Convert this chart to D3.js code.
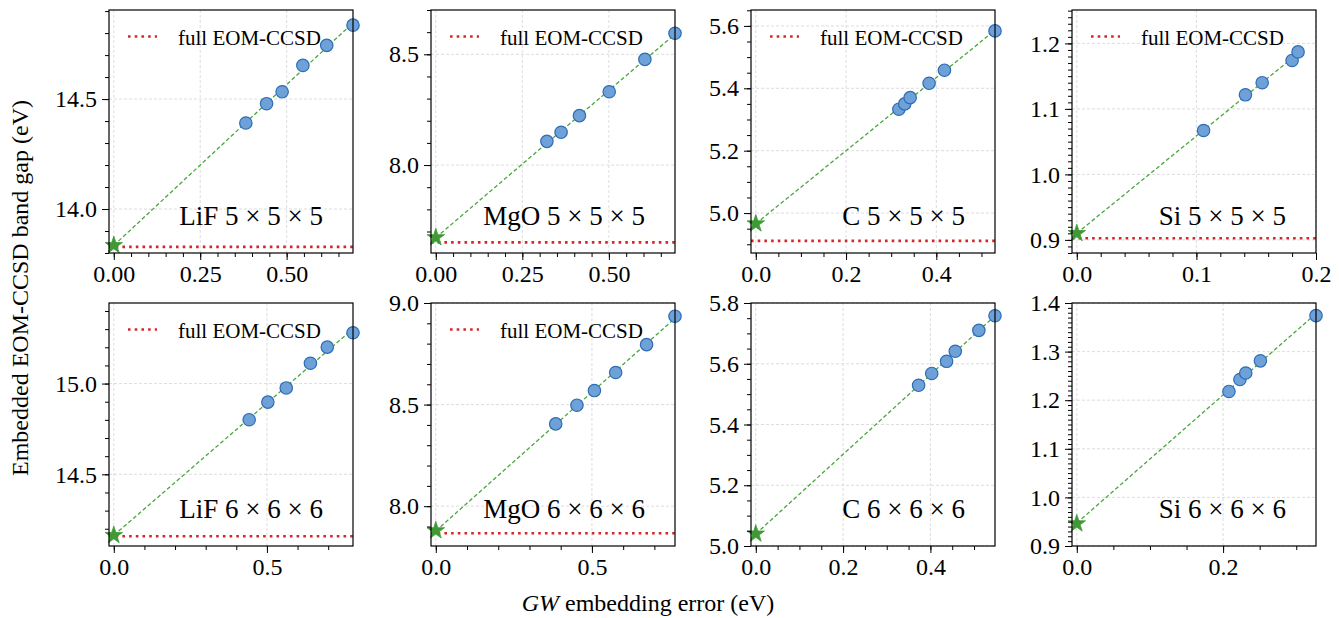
<!DOCTYPE html>
<html lang="en">
<head>
<meta charset="utf-8">
<script src="https://d3js.org/d3.v7.min.js"></script>
<style>
  body { margin: 0; background: #fff; }
  svg text { font-family: "Liberation Serif", serif !important; fill: #000; }
</style>
</head>
<body>
<div id="graph"></div>
<script>
// panel names
var systems = ["LiF", "MgO", "C", "Si", "LiF", "MgO", "C", "Si"];
var kmesh = [5, 5, 5, 5, 6, 6, 6, 6];

// GW embedding error (x) and embedded EOM-CCSD gap (y), one pair per panel
var lif5X = [0.382, 0.442, 0.487, 0.547, 0.616, 0.692];
var lif5Y = [14.391, 14.479, 14.533, 14.653, 14.744, 14.836];
var mgo5X = [0.321, 0.362, 0.415, 0.501, 0.604, 0.691];
var mgo5Y = [8.107, 8.148, 8.223, 8.331, 8.477, 8.595];
var c5X = [0.317, 0.330, 0.342, 0.384, 0.418, 0.530];
var c5Y = [5.333, 5.350, 5.370, 5.416, 5.458, 5.584];
var si5X = [0.106, 0.141, 0.155, 0.180, 0.185];
var si5Y = [1.067, 1.1215, 1.140, 1.174, 1.187];
var lif6X = [0.442, 0.503, 0.563, 0.642, 0.697, 0.781];
var lif6Y = [14.801, 14.898, 14.976, 15.112, 15.201, 15.280];
var mgo6X = [0.384, 0.452, 0.508, 0.576, 0.675, 0.766];
var mgo6Y = [8.405, 8.497, 8.569, 8.658, 8.795, 8.935];
var c6X = [0.373, 0.403, 0.437, 0.457, 0.511, 0.548];
var c6Y = [5.529, 5.568, 5.608, 5.641, 5.710, 5.758];
var si6X = [0.208, 0.223, 0.231, 0.251, 0.327];
var si6Y = [1.218, 1.2425, 1.256, 1.281, 1.374];

// extrapolated value at zero error (star) and the full EOM-CCSD reference
var starY = [13.835, 7.673, 4.966, 0.910, 14.164, 7.880, 5.040, 0.946];
var fullY = [13.828, 7.651, 4.911, 0.9026, 14.159, 7.867, null, null];

// axis ranges
var xMax = [0.692, 0.691, 0.530, 0.2, 0.781, 0.766, 0.548, 0.327];
var yLo = [13.80, 7.603, 4.872, 0.880, 14.105, 7.804, 5.0, 0.9];
var yHi = [14.905, 8.70, 5.651, 1.251, 15.444, 9.0, 5.8, 1.4];

// tick labels
var xTickLabels = [
  ["0.00", "0.25", "0.50"], ["0.00", "0.25", "0.50"], ["0.0", "0.2", "0.4"], ["0.0", "0.1", "0.2"],
  ["0.0", "0.5"], ["0.0", "0.5"], ["0.0", "0.2", "0.4"], ["0.0", "0.2"]
];
var yTickLabels = [
  ["14.0", "14.5"], ["8.0", "8.5"], ["5.0", "5.2", "5.4", "5.6"], ["0.9", "1.0", "1.1", "1.2"],
  ["14.5", "15.0"], ["8.0", "8.5", "9.0"], ["5.0", "5.2", "5.4", "5.6", "5.8"],
  ["0.9", "1.0", "1.1", "1.2", "1.3", "1.4"]
];
var xMinor = [0.05, 0.05, 0.05, 0.02, 0.1, 0.1, 0.05, 0.05];
var yMinor = [0.1, 0.1, 0.05, 0.01, 0.1, 0.1, 0.05, 0.01];

var xs = [lif5X, mgo5X, c5X, si5X, lif6X, mgo6X, c6X, si6X];
var ys = [lif5Y, mgo5Y, c5Y, si5Y, lif6Y, mgo6Y, c6Y, si6Y];

var W = 1339, H = 618;
var lefts = [109, 431, 751, 1072], tops = [10, 303];
var pw = 244, ph = 243;
var serif = '"Liberation Serif", serif';

var svg = d3.select("#graph").append("svg")
    .attr("width", W).attr("height", H);

function minorTicks(lo, hi, step) {
  var out = [];
  for (var k = Math.ceil(lo / step - 1e-6); k * step <= hi + 1e-9; k++) out.push(+(k * step).toFixed(4));
  return out;
}

systems.forEach(function(name, i) {
  var g = svg.append("g")
      .attr("transform", "translate(" + lefts[i % 4] + "," + tops[Math.floor(i / 4)] + ")");

  var x = d3.scaleLinear().domain([-0.02 * xMax[i], xMax[i]]).range([0, pw]);
  var y = d3.scaleLinear().domain([yLo[i], yHi[i]]).range([ph, 0]);
  var xMaj = xTickLabels[i].map(Number), yMaj = yTickLabels[i].map(Number);

  // grid
  g.append("g").selectAll("line").data(xMaj).enter().append("line")
      .attr("x1", d => x(d)).attr("x2", d => x(d)).attr("y1", 0).attr("y2", ph)
      .attr("stroke", "#d4d4d4").attr("stroke-width", 0.8).attr("stroke-dasharray", "3,2");
  g.append("g").selectAll("line").data(yMaj).enter().append("line")
      .attr("y1", d => y(d)).attr("y2", d => y(d)).attr("x1", 0).attr("x2", pw)
      .attr("stroke", "#d4d4d4").attr("stroke-width", 0.8).attr("stroke-dasharray", "3,2");

  // full EOM-CCSD reference
  if (fullY[i] !== null) {
    g.append("line")
        .attr("x1", 0).attr("x2", pw).attr("y1", y(fullY[i])).attr("y2", y(fullY[i]))
        .attr("stroke", "#d62728").attr("stroke-width", 2.6).attr("stroke-dasharray", "2.6,4.1");
  }

  // linear fit through star and points
  var px = [0].concat(xs[i]), py = [starY[i]].concat(ys[i]);
  var mx = d3.mean(px), my = d3.mean(py);
  var slope = d3.sum(px, (v, k) => (v - mx) * (py[k] - my)) / d3.sum(px, v => (v - mx) * (v - mx));
  var icpt = my - slope * mx;
  var fitX = [0, d3.max(xs[i])];
  g.append("path")
      .datum(fitX)
      .attr("d", d3.line().x(d => x(d)).y(d => y(icpt + slope * d)))
      .attr("fill", "none").attr("stroke", "#4aa63f").attr("stroke-width", 1.3)
      .attr("stroke-dasharray", "4,2.4");

  // points
  g.append("g").selectAll("circle").data(xs[i]).enter().append("circle")
      .attr("cx", d => x(d)).attr("cy", (d, k) => y(ys[i][k])).attr("r", 6.2)
      .attr("fill", "#6ea1d8").attr("stroke", "#2f6cb3").attr("stroke-width", 1.2);

  // star at zero error
  g.append("path")
      .attr("d", d3.symbol().type(d3.symbolStar).size(95))
      .attr("transform", "translate(" + x(0) + "," + y(starY[i]) + ")")
      .attr("fill", "#3f9a36").attr("stroke", "#3f9a36").attr("stroke-width", 0.8);

  // frame
  g.append("rect").attr("width", pw).attr("height", ph)
      .attr("fill", "none").attr("stroke", "#000").attr("stroke-width", 1.2);

  // axes
  var fx = function(d) { var k = xMaj.indexOf(d); return xTickLabels[i][k]; };
  var fy = function(d) { var k = yMaj.indexOf(d); return yTickLabels[i][k]; };
  var xa = g.append("g").attr("transform", "translate(0," + ph + ")")
      .call(d3.axisBottom(x).tickValues(xMaj).tickSize(7).tickPadding(5).tickFormat(fx));
  var xm = g.append("g").attr("transform", "translate(0," + ph + ")")
      .call(d3.axisBottom(x).tickValues(minorTicks(x.domain()[0], x.domain()[1], xMinor[i])).tickSize(4).tickFormat(""));
  var ya = g.append("g")
      .call(d3.axisLeft(y).tickValues(yMaj).tickSize(7).tickPadding(5).tickFormat(fy));
  var ym = g.append("g")
      .call(d3.axisLeft(y).tickValues(minorTicks(yLo[i], yHi[i], yMinor[i])).tickSize(4).tickFormat(""));
  [xa, xm, ya, ym].forEach(function(a) {
    a.attr("font-family", serif).attr("font-size", 24);
    a.select(".domain").remove();
    a.selectAll("line").attr("stroke", "#000").attr("stroke-width", 1);
    a.selectAll("text").style("font-family", serif).style("font-size", "24px");
  });

  // legend
  if (fullY[i] !== null) {
    g.append("line").attr("x1", 19).attr("x2", 48).attr("y1", 26.5).attr("y2", 26.5)
        .attr("stroke", "#d62728").attr("stroke-width", 2.6).attr("stroke-dasharray", "2.6,4.1");
    g.append("text").attr("x", 69).attr("y", 34.5)
        .style("font-family", serif).style("font-size", "21px").text("full EOM-CCSD");
  }

  // panel label
  g.append("text").attr("x", pw - 30).attr("y", ph - 28.5)
      .attr("text-anchor", "end").style("font-family", serif).style("font-size", "27px")
      .text(name + " " + kmesh[i] + " \u00d7 " + kmesh[i] + " \u00d7 " + kmesh[i]);
});

// axis titles
svg.append("text")
    .attr("transform", "translate(28,288) rotate(-90)")
    .attr("text-anchor", "middle").style("font-family", serif).style("font-size", "24px")
    .text("Embedded EOM-CCSD band gap (eV)");

var xl = svg.append("text").attr("x", 648).attr("y", 611)
    .attr("text-anchor", "middle").style("font-family", serif).style("font-size", "24px");
xl.append("tspan").style("font-style", "italic").text("GW");
xl.append("tspan").text(" embedding error (eV)");
</script>
</body>
</html>
